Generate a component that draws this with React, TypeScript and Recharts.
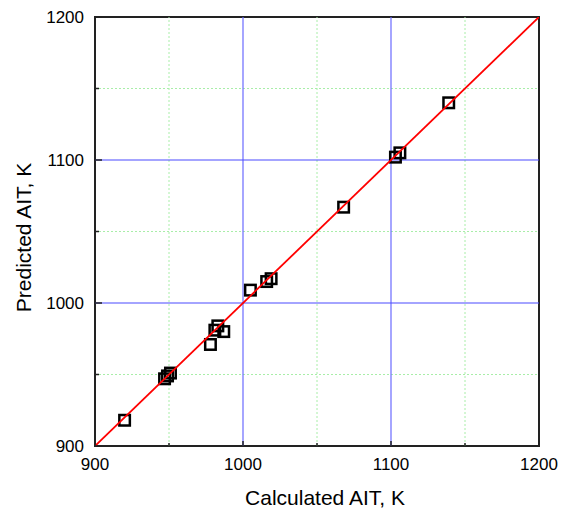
import React from 'react';
import { ScatterChart, Scatter, XAxis, YAxis, ReferenceLine, ReferenceArea, Label } from 'recharts';

const calculatedAIT = [920, 947, 949, 951, 978, 981, 983, 987, 1005, 1016, 1019, 1068, 1103, 1106, 1139];
const predictedAIT = [918, 947, 949, 951, 971, 981, 984, 980, 1009, 1015, 1017, 1067, 1102, 1105, 1140];
const axisTicks = [900, 950, 1000, 1050, 1100, 1150, 1200];
const majorGrid = [1000, 1100];
const minorGrid = [950, 1050, 1150];
const diagonal = [900, 1200];

const points = calculatedAIT.map((x, i) => ({ x, y: predictedAIT[i] }));
const diagData = diagonal.map((v) => ({ x: v, y: v }));

const FONT = 'Liberation Sans, Arial, sans-serif';
const TICK_MARGIN_X = 12;
const TICK_MARGIN_Y = 11;

const isMajor = (v: number) => v % 100 === 0;

const XTick = (props: any) => {
  const { x, y, payload } = props;
  const axisY = y - TICK_MARGIN_X;
  const len = isMajor(payload.value) ? 5 : 3;
  return (
    <g>
      <line x1={x} x2={x} y1={axisY} y2={axisY - len} stroke="#222" strokeWidth={1.5} />
      {isMajor(payload.value) && (
        <text x={x} y={y} dy="0.71em" textAnchor="middle" fontSize={17} fontFamily={FONT} fill="#000">
          {payload.value}
        </text>
      )}
    </g>
  );
};

const YTick = (props: any) => {
  const { x, y, payload } = props;
  const axisX = x + TICK_MARGIN_Y;
  const len = isMajor(payload.value) ? 7 : 4;
  return (
    <g>
      <line x1={axisX} x2={axisX + len} y1={y} y2={y} stroke="#222" strokeWidth={1.5} />
      {isMajor(payload.value) && (
        <text x={x} y={y} dy="0.355em" textAnchor="end" fontSize={17} fontFamily={FONT} fill="#000">
          {payload.value}
        </text>
      )}
    </g>
  );
};

const SquareShape = (props: any) => {
  const { cx, cy } = props;
  const s = 10.5;
  return <rect x={cx - s / 2} y={cy - s / 2} width={s} height={s} fill="none" stroke="#000" strokeWidth={2.5} />;
};

const NoShape = () => null;

export default function App() {
  return (
    <div style={{ margin: '-8px 0 0 -8px', width: 566, height: 511, background: '#fff' }}>
      <ScatterChart width={566} height={511} margin={{ top: 17, right: 27, left: 0, bottom: 0 }}>
        <XAxis
          type="number"
          dataKey="x"
          domain={[900, 1200]}
          ticks={axisTicks}
          interval={0}
          height={65}
          tickSize={0}
          tickMargin={TICK_MARGIN_X}
          tick={<XTick />}
          axisLine={false}
          allowDataOverflow
        >
          <Label
            content={(p: any) => {
              const vb = p.viewBox;
              return (
                <text x={vb.x + vb.width / 2 + 8} y={vb.y + 59} textAnchor="middle" fontSize={21} fontFamily={FONT} fill="#000">
                  Calculated AIT, K
                </text>
              );
            }}
          />
        </XAxis>
        <YAxis
          type="number"
          dataKey="y"
          domain={[900, 1200]}
          ticks={axisTicks}
          interval={0}
          width={95}
          tickSize={0}
          tickMargin={TICK_MARGIN_Y}
          tick={<YTick />}
          axisLine={false}
          allowDataOverflow
        >
          <Label
            content={(p: any) => {
              const vb = p.viewBox;
              const cx = 31;
              const cy = vb.y + vb.height / 2 + 6;
              return (
                <text x={cx} y={cy} transform={`rotate(-90, ${cx}, ${cy})`} textAnchor="middle" fontSize={21} fontFamily={FONT} fill="#000">
                  Predicted AIT, K
                </text>
              );
            }}
          />
        </YAxis>
        {minorGrid.map((v) => (
          <ReferenceLine key={'mx' + v} x={v} stroke="#a8eea8" strokeDasharray="2 2" strokeWidth={1} />
        ))}
        {minorGrid.map((v) => (
          <ReferenceLine key={'my' + v} y={v} stroke="#a8eea8" strokeDasharray="2 2" strokeWidth={1} />
        ))}
        {majorGrid.map((v) => (
          <ReferenceLine key={'Mx' + v} x={v} stroke="#6a6aff" strokeWidth={1.2} />
        ))}
        {majorGrid.map((v) => (
          <ReferenceLine key={'My' + v} y={v} stroke="#4a4aff" strokeWidth={1.2} />
        ))}
        <Scatter data={points} shape={<SquareShape />} isAnimationActive={false} />
        <Scatter
          data={diagData}
          line={{ stroke: '#ff0000', strokeWidth: 1.8 }}
          shape={<NoShape />}
          isAnimationActive={false}
        />
        <ReferenceArea x1={900} x2={1200} y1={900} y2={1200} fill="none" stroke="#222" strokeWidth={2} />
      </ScatterChart>
    </div>
  );
}
